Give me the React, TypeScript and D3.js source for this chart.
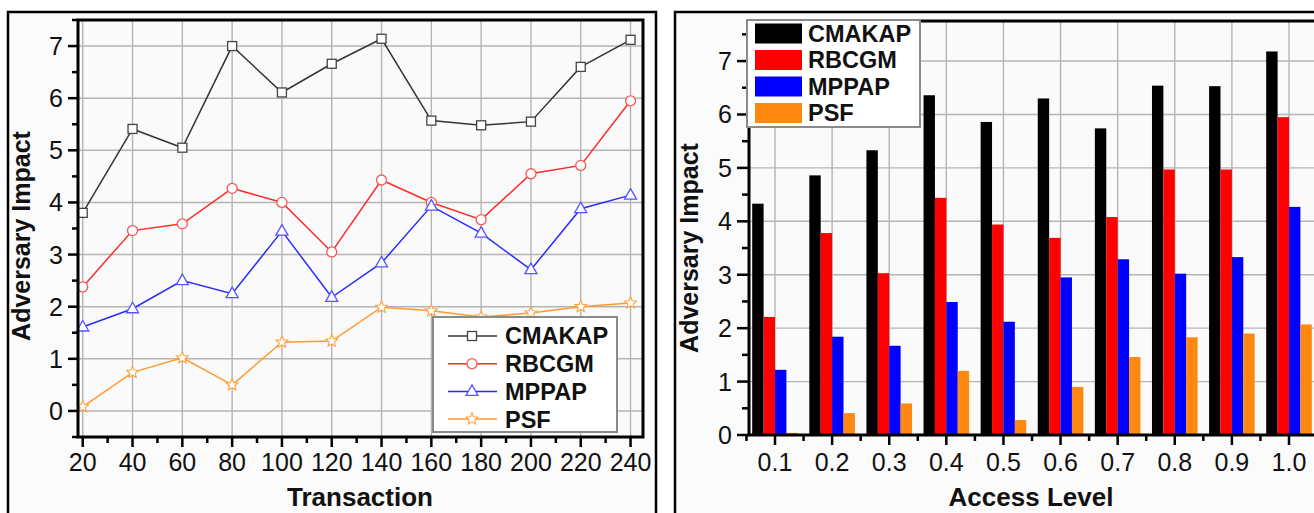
import React from "react";
import * as d3 from "d3";

const transactions = [20, 40, 60, 80, 100, 120, 140, 160, 180, 200, 220, 240];
const lineCMAKAP = [3.8, 5.41, 5.05, 7.0, 6.11, 6.66, 7.14, 5.57, 5.48, 5.55, 6.6, 7.12];
const lineRBCGM = [2.38, 3.46, 3.59, 4.27, 4.0, 3.05, 4.43, 4.0, 3.67, 4.55, 4.71, 5.95];
const lineMPPAP = [1.61, 1.96, 2.5, 2.25, 3.45, 2.18, 2.84, 3.93, 3.41, 2.71, 3.88, 4.14];
const linePSF = [0.08, 0.74, 1.02, 0.5, 1.32, 1.34, 1.99, 1.92, 1.8, 1.88, 2.0, 2.07];

const accessLevels = [0.1, 0.2, 0.3, 0.4, 0.5, 0.6, 0.7, 0.8, 0.9, 1.0];
const barCMAKAP = [4.33, 4.86, 5.33, 6.36, 5.86, 6.3, 5.74, 6.54, 6.53, 7.18];
const barRBCGM = [2.21, 3.78, 3.03, 4.44, 3.94, 3.69, 4.08, 4.97, 4.97, 5.95];
const barMPPAP = [1.22, 1.84, 1.67, 2.49, 2.12, 2.95, 3.29, 3.02, 3.33, 4.27];
const barPSF = [0.04, 0.41, 0.59, 1.2, 0.28, 0.9, 1.46, 1.83, 1.9, 2.07];

const seriesNames = ["CMAKAP", "RBCGM", "MPPAP", "PSF"];
const yTicks = [0, 1, 2, 3, 4, 5, 6, 7];

const FONT = "'Liberation Sans', Arial, sans-serif";

const lineColors = ["#333333", "#ff2a2a", "#2a2aff", "#ff9a2e"];
const markerColors = ["#444444", "#ff5555", "#5555ff", "#ffa040"];
const barColors = ["#000000", "#ff0000", "#0000ff", "#ff8811"];

function Marker({ kind, x, y, color }: { kind: number; x: number; y: number; color: string }) {
  if (kind === 0) return <rect x={x - 4.5} y={y - 4.5} width={9} height={9} fill="#fff" stroke={color} strokeWidth={1.3} />;
  if (kind === 1) return <circle cx={x} cy={y} r={5} fill="#fff" stroke={color} strokeWidth={1.3} />;
  if (kind === 2) {
    const p = `M${x},${y - 6.5}L${x + 6},${y + 4}L${x - 6},${y + 4}Z`;
    return <path d={p} fill="#fff" stroke={color} strokeWidth={1.3} />;
  }
  const pts: string[] = [];
  for (let i = 0; i < 10; i++) {
    const r = i % 2 === 0 ? 6.2 : 2.8;
    const a = -Math.PI / 2 + (i * Math.PI) / 5;
    pts.push(`${x + r * Math.cos(a)},${y + r * Math.sin(a)}`);
  }
  return <path d={`M${pts.join("L")}Z`} fill="#fff" stroke={color} strokeWidth={1.1} />;
}

export default function App() {
  const xL = d3.scaleLinear().domain([18.1, 245]).range([78, 643]);
  const yL = d3.scaleLinear().domain([-0.5, 7.5]).range([437, 20]);
  const xR = d3.scaleLinear().domain([0.1, 1.0]).range([775, 1289]);
  const yR = d3.scaleLinear().domain([0, 7.75]).range([435, 21]);

  const lineSeries = [lineCMAKAP, lineRBCGM, lineMPPAP, linePSF];
  const barSeries = [barCMAKAP, barRBCGM, barMPPAP, barPSF];
  const lineGen = d3.line<number>().x((_, i) => xL(transactions[i])).y((d) => yL(d));

  const xMinorL = d3.range(30, 241, 20);
  const yMinorL = d3.range(-0.5, 7.6, 1);
  const yMinorR = d3.range(0.5, 7.6, 1);
  const xMinorR = d3.range(0, 11).map((i) => 0.05 + i * 0.1);
  const bw = 11.4;

  const rLeft = 749;
  const rRight = 1330;
  const tickFs = 25;
  const titleFs = 26;
  const legFs = 23.5;

  return (
    <svg width={1314} height={513} style={{ position: "absolute", left: 0, top: 0 }} fontFamily={FONT}>
      <rect x={0} y={0} width={1314} height={513} fill="#fff" />
      <rect x={8} y={12} width={648} height={520} fill="#fbfbfb" stroke="#000" strokeWidth={2.5} />
      <rect x={675} y={12} width={660} height={520} fill="#fbfbfb" stroke="#000" strokeWidth={2.5} />

      {/* ===== LEFT CHART ===== */}
      <g>
        <rect x={78} y={20} width={565} height={417} fill="#fafafa" />
        {yTicks.map((t) => (
          <line key={"gy" + t} x1={78} x2={643} y1={yL(t)} y2={yL(t)} stroke="#b4b4b4" strokeWidth={1.4} />
        ))}
        {transactions.map((t) => (
          <line key={"gx" + t} x1={xL(t)} x2={xL(t)} y1={20} y2={437} stroke="#b4b4b4" strokeWidth={1.4} />
        ))}
        {lineSeries.map((s, k) => (
          <path key={"l" + k} d={lineGen(s) || ""} fill="none" stroke={lineColors[k]} strokeWidth={1.5} />
        ))}
        {lineSeries.map((s, k) =>
          s.map((v, i) => <Marker key={`m${k}-${i}`} kind={k} x={xL(transactions[i])} y={yL(v)} color={markerColors[k]} />)
        )}
        <rect x={78} y={20} width={565} height={417} fill="none" stroke="#000" strokeWidth={3} />
        {yTicks.map((t) => (
          <line key={"ty" + t} x1={68} x2={78} y1={yL(t)} y2={yL(t)} stroke="#000" strokeWidth={2.5} />
        ))}
        {yMinorL.map((t) => (
          <line key={"tmy" + t} x1={72} x2={78} y1={yL(t)} y2={yL(t)} stroke="#000" strokeWidth={2.5} />
        ))}
        {yTicks.map((t) => (
          <text key={"ly" + t} x={63} y={yL(t)} dy="0.36em" textAnchor="end" fontSize={tickFs} fill="#111">
            {t}
          </text>
        ))}
        {transactions.map((t) => (
          <line key={"tx" + t} x1={xL(t)} x2={xL(t)} y1={437} y2={447} stroke="#000" strokeWidth={2.5} />
        ))}
        {xMinorL.map((t) => (
          <line key={"tmx" + t} x1={xL(t)} x2={xL(t)} y1={437} y2={443} stroke="#000" strokeWidth={2.5} />
        ))}
        {transactions.map((t) => (
          <text key={"lx" + t} x={xL(t)} y={462} dy="0.36em" textAnchor="middle" fontSize={tickFs} fill="#111">
            {t}
          </text>
        ))}
        <text x={360} y={506} textAnchor="middle" fontSize={titleFs} fontWeight="bold" fill="#111">
          Transaction
        </text>
        <text transform="translate(30,236) rotate(-90)" textAnchor="middle" fontSize={25} fontWeight="bold" fill="#111">
          Adversary Impact
        </text>
        <rect x={433} y={317} width={184} height={115} fill="#fff" stroke="#8a8a8a" strokeWidth={2} />
        {seriesNames.map((n, k) => {
          const cy = 336 + k * 27.7;
          return (
            <g key={"lg" + k}>
              <line x1={448} x2={497} y1={cy} y2={cy} stroke={lineColors[k]} strokeWidth={1.5} />
              <Marker kind={k} x={472} y={cy} color={markerColors[k]} />
              <text x={505} y={cy} dy="0.36em" fontSize={legFs} fontWeight="bold" fill="#111">
                {n}
              </text>
            </g>
          );
        })}
      </g>

      {/* ===== RIGHT CHART ===== */}
      <g>
        <rect x={rLeft} y={21} width={rRight - rLeft} height={414} fill="#fafafa" />
        {yTicks.slice(1).map((t) => (
          <line key={"rgy" + t} x1={rLeft} x2={rRight} y1={yR(t)} y2={yR(t)} stroke="#b4b4b4" strokeWidth={1.4} />
        ))}
        {accessLevels.map((t) => (
          <line key={"rgx" + t} x1={xR(t)} x2={xR(t)} y1={21} y2={435} stroke="#b4b4b4" strokeWidth={1.4} />
        ))}
        {barSeries.map((s, k) =>
          s.map((v, i) => {
            const c = xR(accessLevels[i]);
            const x0 = c + (k - 2) * bw;
            return (
              <rect key={`b${k}-${i}`} x={x0} y={yR(v)} width={bw} height={yR(0) - yR(v)} fill={barColors[k]} />
            );
          })
        )}
        <rect x={rLeft} y={21} width={rRight - rLeft} height={414} fill="none" stroke="#000" strokeWidth={3} />
        {yTicks.map((t) => (
          <line key={"rty" + t} x1={737} x2={rLeft} y1={yR(t)} y2={yR(t)} stroke="#000" strokeWidth={2.5} />
        ))}
        {yMinorR.map((t) => (
          <line key={"rtmy" + t} x1={742} x2={rLeft} y1={yR(t)} y2={yR(t)} stroke="#000" strokeWidth={2.5} />
        ))}
        {yTicks.map((t) => (
          <text key={"rly" + t} x={732} y={yR(t)} dy="0.36em" textAnchor="end" fontSize={tickFs} fill="#111">
            {t}
          </text>
        ))}
        {accessLevels.map((t) => (
          <line key={"rtx" + t} x1={xR(t)} x2={xR(t)} y1={435} y2={445} stroke="#000" strokeWidth={2.5} />
        ))}
        {xMinorR.map((t) => (
          <line key={"rtmx" + t} x1={xR(t)} x2={xR(t)} y1={435} y2={441} stroke="#000" strokeWidth={2.5} />
        ))}
        {accessLevels.map((t) => (
          <text key={"rlx" + t} x={xR(t)} y={462} dy="0.36em" textAnchor="middle" fontSize={tickFs} fill="#111">
            {d3.format(".1f")(t)}
          </text>
        ))}
        <text x={1031} y={506} textAnchor="middle" fontSize={titleFs} fontWeight="bold" fill="#111">
          Access Level
        </text>
        <text transform="translate(698,248) rotate(-90)" textAnchor="middle" fontSize={25} fontWeight="bold" fill="#111">
          Adversary Impact
        </text>
        <rect x={747} y={20} width={173} height={107} fill="#fff" stroke="#8a8a8a" strokeWidth={2} />
        {seriesNames.map((n, k) => {
          const cy = 33.5 + k * 26.5;
          return (
            <g key={"rlg" + k}>
              <rect x={755} y={cy - 10} width={47} height={20} fill={barColors[k]} />
              <text x={808} y={cy} dy="0.36em" fontSize={legFs} fontWeight="bold" fill="#111">
                {n}
              </text>
            </g>
          );
        })}
      </g>
    </svg>
  );
}
